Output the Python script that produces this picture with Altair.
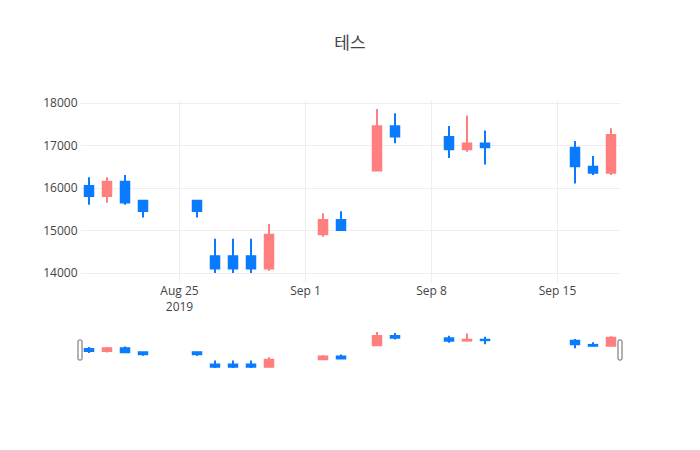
import altair as alt
import pandas as pd

dates = ["2019-08-20", "2019-08-21", "2019-08-22", "2019-08-23", "2019-08-26",
         "2019-08-27", "2019-08-28", "2019-08-29", "2019-08-30", "2019-09-02",
         "2019-09-03", "2019-09-05", "2019-09-06", "2019-09-09", "2019-09-10",
         "2019-09-11", "2019-09-16", "2019-09-17", "2019-09-18"]
open_ = [16050, 15800, 16150, 15700, 15700, 14400, 14400, 14400, 14100, 14900,
         15250, 16400, 17450, 17200, 16900, 17050, 16950, 16500, 16350]
high = [16250, 16250, 16300, 15700, 15700, 14800, 14800, 14800, 15150, 15400,
        15450, 17850, 17750, 17450, 17700, 17350, 17100, 16750, 17400]
low = [15600, 15650, 15600, 15300, 15300, 14000, 14000, 14000, 14050, 14850,
       15000, 16400, 17050, 16700, 16850, 16550, 16100, 16300, 16300]
close = [15800, 16150, 15650, 15450, 15450, 14100, 14100, 14100, 14900, 15250,
         15000, 17450, 17200, 16900, 17050, 16950, 16500, 16350, 17250]

title_text = "테스"
y_ticks = [14000, 15000, 16000, 17000, 18000]

df = pd.DataFrame({"date": dates, "open": open_, "high": high, "low": low, "close": close})
df["dir"] = ["inc" if c > o else "dec" for o, c in zip(open_, close)]

RED = "#FF7F7F"
BLUE = "#0A7BFF"
GRID = "#EEEEEE"
TXT = "#444444"

x_domain = [alt.DateTime(year=2019, month=8, date=19, hours=12, utc=True),
            alt.DateTime(year=2019, month=9, date=18, hours=12, utc=True)]
y_domain = [13786, 18064]
x_ticks = [alt.DateTime(year=2019, month=8, date=25, utc=True),
           alt.DateTime(year=2019, month=9, date=1, utc=True),
           alt.DateTime(year=2019, month=9, date=8, utc=True),
           alt.DateTime(year=2019, month=9, date=15, utc=True)]

color = alt.Color("dir:N", scale=alt.Scale(domain=["inc", "dec"], range=[RED, BLUE]), legend=None)


def candles(x_axis, y_axis):
    base = alt.Chart(df)
    xenc = alt.X("date:T", scale=alt.Scale(type="utc", domain=x_domain, nice=False, padding=0),
                 axis=x_axis, title=None)
    yscale = alt.Scale(domain=y_domain, nice=False, zero=False)
    wick = base.mark_rule(strokeWidth=2).encode(
        x=xenc,
        y=alt.Y("low:Q", scale=yscale, axis=y_axis, title=None),
        y2="high:Q",
        color=color,
    )
    body = base.mark_bar(size=9, strokeWidth=1.5).encode(
        x=xenc,
        y=alt.Y("open:Q", scale=yscale, axis=y_axis, title=None),
        y2="close:Q",
        color=color,
        stroke=color,
    )
    return wick + body


main_x_axis = alt.Axis(
    values=x_ticks,
    labelExpr="utcdate(datum.value) == 25 ? [utcFormat(datum.value, '%b %-d'), '2019'] : utcFormat(datum.value, '%b %-d')",
    grid=True, gridColor=GRID, gridWidth=1,
    domain=False, ticks=False, tickSize=0,
    labelPadding=3, labelFontSize=12, labelColor=TXT, labelFont="Open Sans",
    labelLineHeight=16, labelBaseline="top",
)
main_y_axis = alt.Axis(
    values=y_ticks, format="d",
    grid=True, gridColor=GRID, gridWidth=1,
    domain=False, ticks=False, tickSize=0,
    labelPadding=3, labelFontSize=12, labelColor=TXT, labelFont="Open Sans",
    minExtent=72, maxExtent=72,
)

main = candles(main_x_axis, main_y_axis).properties(
    width=540, height=182,
    title=alt.TitleParams(title_text, fontSize=17, color=TXT, font="Open Sans, Noto Sans CJK KR",
                          fontWeight="normal", anchor="middle", offset=44),
)

slider_candles = candles(None, None)
handles = alt.Chart(pd.DataFrame({"side": [0, 1]})).mark_rect(
    fill="white", stroke="#666666", strokeWidth=1, cornerRadius=1
).encode(
    x=alt.value(-2), x2=alt.value(2), y=alt.value(10), y2=alt.value(30)
).transform_filter("datum.side == 0")
handles_r = alt.Chart(pd.DataFrame({"side": [0, 1]})).mark_rect(
    fill="white", stroke="#666666", strokeWidth=1, cornerRadius=1
).encode(
    x=alt.value(538), x2=alt.value(542), y=alt.value(10), y2=alt.value(30)
).transform_filter("datum.side == 1")

slider = alt.layer(slider_candles, handles, handles_r).properties(width=540, height=40)

chart = alt.vconcat(main, slider, spacing=18).properties(
    padding={"left": 0, "top": 26, "right": 0, "bottom": 0},
    background="white",
).configure_view(stroke=None).configure_concat(spacing=18)

chart.save("out.html", embed_options={"renderer": "svg", "actions": False})
